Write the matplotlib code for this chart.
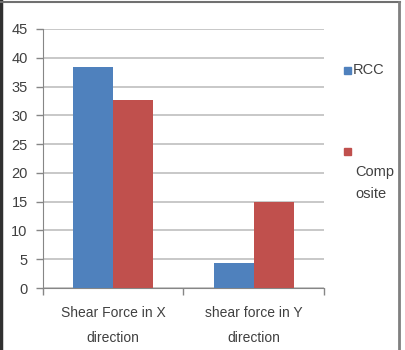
import matplotlib
matplotlib.use("Agg")
import matplotlib.pyplot as plt
from matplotlib.patches import Rectangle
from matplotlib.lines import Line2D
import numpy as np

categories = ["Shear Force in X\ndirection", "shear force in Y\ndirection"]
rcc = [38.4, 4.4]
composite = [32.7, 15.0]
yticks = [0, 5, 10, 15, 20, 25, 30, 35, 40, 45]

plt.rcParams['font.family'] = ['Liberation Sans', 'DejaVu Sans']

fig = plt.figure(figsize=(4.06, 3.5), dpi=100)
W, H = 406, 350
ax = fig.add_axes([43 / W, 1 - 288 / H, (324 - 43) / W, (288 - 29) / H])

x = np.arange(len(categories))
bw = 0.285
ax.bar(x - bw / 2, rcc, bw, color='#4F81BD', zorder=3)
ax.bar(x + bw / 2, composite, bw, color='#C0504D', zorder=3)

ax.set_xlim(-0.5, len(categories) - 0.5)
ax.set_ylim(0, 45)
ax.set_yticks(yticks)
ax.tick_params(axis='y', colors='#868686', labelcolor='#404040', labelsize=10.5,
               length=5, width=1, pad=6)
ax.yaxis.grid(True, color='#bfbfbf', linewidth=1.2, zorder=0)
ax.set_axisbelow(True)

# category boundaries ticks on the x axis
ax.set_xticks(np.arange(len(categories) + 1) - 0.5)
ax.set_xticklabels([])
ax.tick_params(axis='x', colors='#868686', length=5, width=1)
ax.set_xticks(x, minor=True)
ax.set_xticklabels(categories, minor=True)
ax.tick_params(axis='x', which='minor', length=0, labelsize=10,
               labelcolor='#404040', pad=13)
for lab in ax.get_xticklabels(minor=True):
    lab.set_linespacing(1.95)

for s in ['top', 'right']:
    ax.spines[s].set_visible(False)
ax.spines['left'].set_color('#868686')
ax.spines['bottom'].set_color('#868686')

# legend, drawn by hand as in the original
fig.patches.append(Rectangle((344 / W, 1 - 74 / H), 7 / W, 7 / H,
                             transform=fig.transFigure, color='#4F81BD'))
fig.text(353 / W, 1 - 70.5 / H, "RCC", fontsize=10.5, color='#404040', va='center')
fig.patches.append(Rectangle((344 / W, 1 - 155 / H), 7 / W, 7 / H,
                             transform=fig.transFigure, color='#C0504D'))
fig.text(355 / W, 1 - 172 / H, "Comp", fontsize=10.5, color='#404040', va='center')
fig.text(355 / W, 1 - 194 / H, "osite", fontsize=10.5, color='#404040', va='center')

# outer border
fig.add_artist(Line2D([1.5 / W, 1.5 / W], [0, 1], color='#303030', lw=2.5,
                      transform=fig.transFigure))
fig.add_artist(Line2D([0, 400 / W], [1 - 2 / H, 1 - 2 / H], color='#707070', lw=1.5,
                      transform=fig.transFigure))
fig.add_artist(Line2D([399 / W, 399 / W], [0, 1 - 2 / H], color='#808080', lw=2,
                      transform=fig.transFigure))

fig.savefig("out.png", dpi=100)
